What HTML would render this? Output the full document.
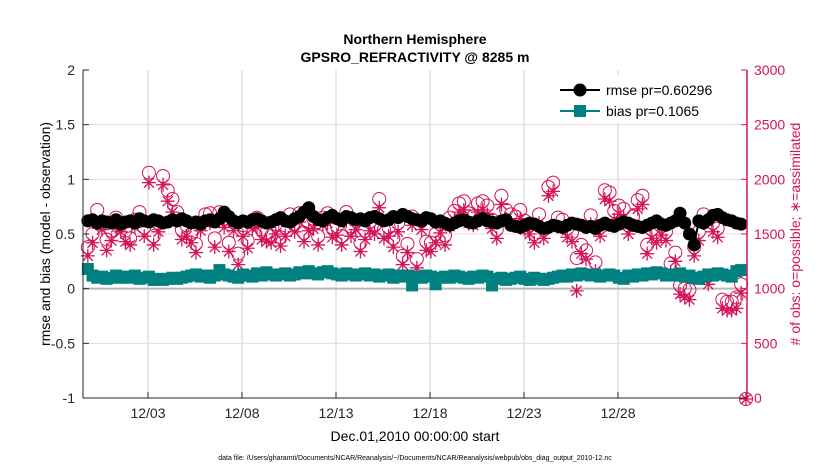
<!DOCTYPE html>
<html><head><meta charset="utf-8"><style>
body{margin:0;background:#fff;font-family:"Liberation Sans",Arial,sans-serif}
svg{display:block}
</style></head><body>
<svg id="chart" width="830" height="470" viewBox="0 0 830 470" xmlns="http://www.w3.org/2000/svg" font-family="Liberation Sans, Arial, sans-serif">
<rect width="830" height="470" fill="#fff"/>
<g id="grid"></g>
<g id="marks"></g>
<g id="axes"></g>
<text x="415" y="44" text-anchor="middle" font-size="14" font-weight="bold">Northern Hemisphere</text>
<text x="415" y="62" text-anchor="middle" font-size="14" font-weight="bold">GPSRO_REFRACTIVITY @ 8285 m</text>
<text x="415" y="441" text-anchor="middle" font-size="14">Dec.01,2010 00:00:00 start</text>
<text x="415" y="460" text-anchor="middle" font-size="7">data file: /Users/gharamti/Documents/NCAR/Reanalysis/~/Documents/NCAR/Reanalysis/webpub/obs_diag_output_2010-12.nc</text>
<text transform="translate(50,234) rotate(-90)" text-anchor="middle" font-size="14">rmse and bias (model - observation)</text>
<text transform="translate(800,234) rotate(-90)" text-anchor="middle" font-size="14" fill="#D4145A"># of obs: o=possible; ∗=assimilated</text>
<g>
<rect x="554" y="76" width="188" height="46" fill="#fff" stroke="#fff"/>
<line x1="560" y1="90" x2="600" y2="90" stroke="#000" stroke-width="2"/>
<circle cx="580" cy="90" r="6.5" fill="#000"/>
<text x="606" y="95" font-size="14">rmse pr=0.60296</text>
<line x1="560" y1="111" x2="600" y2="111" stroke="#008080" stroke-width="2"/>
<rect x="574" y="105" width="12" height="12" fill="#008080"/>
<text x="606" y="116" font-size="14">bias pr=0.1065</text>
</g>
</svg>
<script>
const rmse=[0.62,0.63,0.60,0.62,0.61,0.60,0.63,0.59,0.61,0.62,0.60,0.64,0.62,0.61,0.63,0.62,0.60,0.61,0.63,0.62,
0.64,0.62,0.60,0.61,0.59,0.62,0.63,0.61,0.64,0.70,0.66,0.62,0.60,0.62,0.61,0.63,0.64,0.62,0.60,0.61,
0.63,0.65,0.62,0.61,0.64,0.66,0.70,0.74,0.66,0.63,0.62,0.65,0.67,0.64,0.62,0.66,0.65,0.63,0.64,0.62,
0.65,0.66,0.64,0.62,0.63,0.66,0.65,0.68,0.66,0.64,0.63,0.62,0.65,0.64,0.61,0.62,0.60,0.58,0.60,0.62,
0.63,0.61,0.60,0.62,0.64,0.62,0.61,0.60,0.62,0.63,0.58,0.57,0.56,0.58,0.60,0.59,0.57,0.55,0.56,0.58,
0.57,0.56,0.58,0.60,0.59,0.58,0.56,0.57,0.55,0.58,0.60,0.58,0.57,0.59,0.61,0.60,0.58,0.57,0.56,0.58,
0.60,0.62,0.59,0.58,0.60,0.62,0.69,0.60,0.50,0.40,0.62,0.60,0.63,0.67,0.68,0.65,0.63,0.62,0.60,0.59];
const bias=[0.18,0.12,0.10,0.11,0.09,0.10,0.12,0.10,0.11,0.10,0.12,0.09,0.10,0.11,0.08,0.09,0.08,0.09,0.10,0.09,
0.10,0.11,0.12,0.13,0.11,0.12,0.10,0.12,0.17,0.13,0.12,0.11,0.10,0.13,0.12,0.11,0.14,0.12,0.15,0.13,
0.12,0.13,0.14,0.12,0.13,0.15,0.14,0.16,0.14,0.13,0.15,0.16,0.14,0.13,0.12,0.14,0.13,0.12,0.13,0.14,
0.12,0.13,0.11,0.12,0.13,0.10,0.12,0.11,0.12,0.03,0.11,0.10,0.12,0.11,0.04,0.10,0.11,0.10,0.12,0.11,
0.10,0.09,0.11,0.10,0.12,0.11,0.03,0.09,0.10,0.08,0.09,0.10,0.11,0.09,0.08,0.10,0.09,0.08,0.09,0.10,
0.11,0.12,0.11,0.13,0.12,0.14,0.13,0.12,0.13,0.11,0.12,0.13,0.12,0.10,0.09,0.12,0.11,0.13,0.12,0.14,
0.13,0.15,0.14,0.12,0.13,0.12,0.14,0.11,0.12,0.10,0.09,0.11,0.13,0.12,0.14,0.13,0.12,0.11,0.16,0.17];
const possible=[1380,1500,1720,1600,1450,1530,1650,1580,1530,1460,1630,1700,1560,2060,1480,1600,2030,1900,1820,1700,
1540,1580,1500,1410,1600,1680,1690,1460,1700,1640,1420,1610,1320,1580,1440,1620,1650,1540,1510,1480,
1590,1470,1560,1680,1590,1690,1510,1600,1640,1480,1650,1690,1560,1570,1480,1700,1570,1620,1420,1530,
1610,1580,1820,1540,1560,1460,1600,1300,1410,1660,1270,1620,1430,1420,1500,1590,1490,1650,1710,1780,
1800,1690,1660,1780,1800,1760,1630,1540,1850,1720,1680,1660,1720,1620,1580,1500,1680,1540,1930,1970,
1650,1630,1550,1510,1280,1400,1350,1670,1240,1560,1900,1880,1710,1760,1730,1580,1660,1810,1850,1400,
1540,1500,1570,1520,1230,1330,1030,1000,990,1380,1520,1680,1120,1600,1550,900,880,880,920,1040];
const assimilated=[1300,1420,1590,1540,1350,1440,1560,1520,1430,1400,1560,1620,1480,1970,1400,1520,1950,1800,1700,1620,
1450,1480,1420,1330,1530,1600,1600,1380,1620,1560,1340,1530,1220,1480,1370,1550,1560,1450,1430,1420,
1500,1390,1480,1600,1520,1610,1430,1530,1550,1400,1580,1600,1470,1490,1400,1620,1480,1540,1340,1450,
1530,1500,1740,1460,1480,1380,1520,1220,1330,1580,1190,1540,1350,1340,1420,1510,1400,1570,1630,1700,
1720,1600,1580,1700,1720,1680,1550,1460,1770,1640,1600,1580,1640,1540,1500,1420,1600,1460,1850,1890,
1570,1550,1470,1430,980,1320,1270,1590,1160,1480,1820,1800,1630,1680,1650,1500,1580,1730,1770,1320,
1460,1420,1490,1440,1150,1250,950,920,900,1300,1440,1600,1040,1520,1470,820,800,800,820,960];
const xTickDays=[2,7,12,17,22,27];
const xTickLabels=["12/03","12/08","12/13","12/18","12/23","12/28"];
const yLeftTicks=[-1,-0.5,0,0.5,1,1.5,2];
const yRightTicks=[0,500,1000,1500,2000,2500,3000];
const startDay=-1.2, stepDay=0.25;

const NS="http://www.w3.org/2000/svg";
const L=83,R=747,T=70,B=398;
const xS=d=>110.4+d*18.8;
const yL=v=>B-(v+1)/3*(B-T);
const yR=v=>B-v/3000*(B-T);
function mk(tag,at,parent){const e=document.createElementNS(NS,tag);for(const k in at)e.setAttribute(k,at[k]);parent.appendChild(e);return e;}
const grid=document.getElementById('grid'),marks=document.getElementById('marks'),axes=document.getElementById('axes');
const PINK="#D4145A",TEAL="#008080";

xTickDays.forEach((d,i)=>{
  const g=mk('line',{x1:xS(d),x2:xS(d),y1:T,y2:B,stroke:'#d0d0d0','stroke-width':1},grid);
  
  
  const t=mk('line',{x1:xS(d),x2:xS(d),y1:B,y2:B-6,stroke:'#262626'},axes);
  
  
  const tx=mk('text',{x:xS(d),y:B+20,'text-anchor':'middle','font-size':14,fill:'#262626'},axes);
  tx.textContent=xTickLabels[i];
  
  
});
yRightTicks.forEach(v=>{
  if(v>0&&v<3000){const g=mk('line',{x1:L,x2:R,y1:yR(v),y2:yR(v),stroke:'#f3d6e1','stroke-width':1},grid);
  
  }
  const t=mk('line',{x1:R,x2:R-6,y1:yR(v),y2:yR(v),stroke:PINK},axes);
  
  
  const tx=mk('text',{x:R+7,y:yR(v)+5,'font-size':14,fill:PINK},axes);
  tx.textContent=v;
  
  
});
const zl=mk('line',{x1:L,x2:R,y1:yL(0),y2:yL(0),stroke:'#b8b8b8','stroke-width':2},grid);


yLeftTicks.forEach(v=>{
  const t=mk('line',{x1:L,x2:L+6,y1:yL(v),y2:yL(v),stroke:'#262626'},axes);
  
  
  const tx=mk('text',{x:L-8,y:yL(v)+5,'text-anchor':'end','font-size':14,fill:'#262626'},axes);
  tx.textContent=String(v);
  
  
});
const la=mk('line',{x1:L,x2:L,y1:T,y2:B,stroke:'#262626'},axes);


const ba=mk('line',{x1:L,x2:R,y1:B,y2:B,stroke:'#262626'},axes);


const ra=mk('line',{x1:R,x2:R,y1:T,y2:B,stroke:PINK,'stroke-width':1.5},axes);



const xd=i=>xS(startDay+i*stepDay);
function star(x,y,parent){const s=7;return mk('path',{d:`M${x-s} ${y}H${x+s}M${x} ${y-s}V${y+s}M${x-5} ${y-5}L${x+5} ${y+5}M${x-5} ${y+5}L${x+5} ${y-5}`,stroke:PINK,'stroke-width':1.3,fill:'none'},parent);}
possible.forEach((v,i)=>{
  const c=mk('circle',{cx:xd(i),cy:yR(v),r:6.5,fill:'none',stroke:PINK,'stroke-width':1},marks);
  
  
});
assimilated.forEach((v,i)=>{
  const p=star(xd(i),yR(v),marks);
  
  
});
const rl=mk('polyline',{points:rmse.map((v,i)=>xd(i)+','+yL(v)).join(' '),fill:'none',stroke:'#000','stroke-width':2},marks);


rmse.forEach((v,i)=>{
  const c=mk('circle',{cx:xd(i),cy:yL(v),r:6.5,fill:'#000'},marks);
  
  
});
const bl=mk('polyline',{points:bias.map((v,i)=>xd(i)+','+yL(v)).join(' '),fill:'none',stroke:TEAL,'stroke-width':2},marks);


bias.forEach((v,i)=>{
  const r=mk('rect',{x:xd(i)-6,y:yL(v)-6,width:12,height:12,fill:TEAL},marks);
  
  
});
const zc=mk('circle',{cx:R-1,cy:B+1,r:6.5,fill:'none',stroke:PINK},marks);


const zs=star(R-1,B+1,marks);


</script>
</body></html>
